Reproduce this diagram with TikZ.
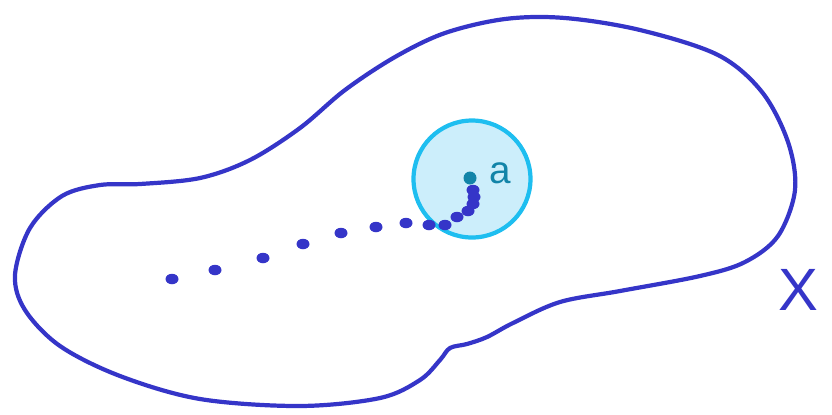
\documentclass[tikz,border=0pt]{standalone}
\usepackage{fontspec}
\setsansfont{Liberation Sans}
\usepackage{tikz}
\usetikzlibrary{positioning, shapes.geometric}
\definecolor{setblue}{HTML}{3535C8}
\definecolor{ballline}{HTML}{1EBEF0}
\definecolor{ballfill}{HTML}{CCEEFB}
\definecolor{pointteal}{HTML}{1284A8}
\begin{document}
\begin{tikzpicture}[
  x=0.02cm, y=-0.02cm,
  outline/.style = {draw=setblue, line width=2.4pt, line join=round},
  ball/.style    = {circle, draw=ballline, fill=ballfill, line width=2.4pt,
                    minimum size=2.34cm, inner sep=0pt},
  dot/.style     = {ellipse, fill=setblue, inner sep=0pt,
                    minimum width=0.26cm, minimum height=0.21cm},
  lbl/.style     = {font=\sffamily\fontsize{22}{24}\selectfont},
]
  \useasboundingbox (0,0) rectangle (832,414);
  % the set X
  \draw[outline] plot[smooth cycle, tension=0.55] coordinates {
    (15,275) (30,228) (62,196) (100,185) (140,184) (200,178) (250,160)
    (300,128) (345,90) (395,57) (445,33) (505,19) (565,18) (640,30)
    (718,55) (762,92) (788,142) (795,190) (778,236) (745,262) (700,276)
    (620,291) (560,302) (513,323) (487,337) (467,344) (450,348)
    (440,360) (420,380) (380,398) (300,406) (200,399) (120,376)
    (60,346) (25,310)};
  % the ball round a
  \node[ball] (ballA) at (472,179) {};
  % the sequence running to a
  \foreach \px/\py [count=\i] in {172/279, 215/270, 263/258, 303/244, 341/233,
                       376/227, 406/223, 429/225, 445/225, 457/217,
                       468/211, 473/204, 474/197, 473/190}
    \node[dot] (x\i) at (\px,\py) {};
  \node[circle, fill=pointteal, inner sep=0pt, minimum size=0.26cm] (ptA) at (470,178) {};
  \node[lbl, text=pointteal, right=0.12cm of ptA, yshift=0.1cm] (labA) {a};
  \node[lbl, text=setblue, font=\sffamily\fontsize{34}{36}\selectfont] (labX) at (798,290) {X};
\end{tikzpicture}
\end{document}
